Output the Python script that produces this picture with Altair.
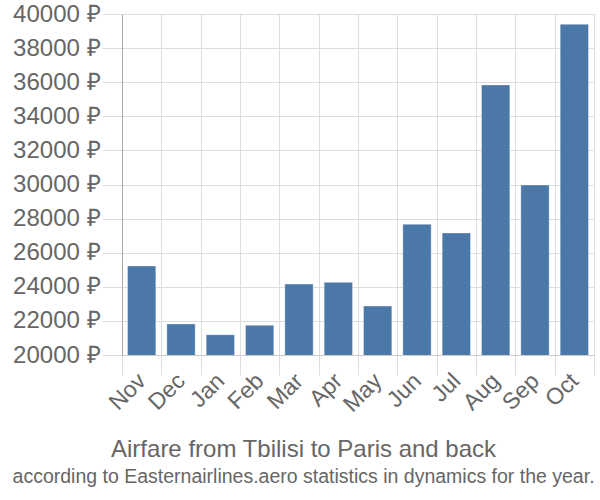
import altair as alt
import pandas as pd

months = ["Nov", "Dec", "Jan", "Feb", "Mar", "Apr", "May", "Jun", "Jul", "Aug", "Sep", "Oct"]
prices = [25220, 21820, 21190, 21740, 24160, 24260, 22870, 27670, 27160, 35840, 29970, 39400]

df = pd.DataFrame({"month": months, "price": prices})

FONT = "Liberation Sans"

chart = alt.Chart(df).mark_bar(
    color="#4c78a8",
    width=alt.RelativeBandSize(0.72),
    stroke="#ffffff",
    strokeOpacity=0.35,
    strokeWidth=1,
    clip=True,
).encode(
    x=alt.X("month:N", sort=months, title=None,
            scale=alt.Scale(paddingInner=0, paddingOuter=0),
            axis=alt.Axis(labelAngle=-45, labelAlign="right", labelBaseline="middle",
                          tickBand="extent", tickSize=20, tickColor="#dddddd",
                          grid=True, gridColor="#dddddd", domainColor="#cccccc",
                          labelFont=FONT, labelFontSize=23, labelColor="#666666",
                          labelPadding=2)),
    y=alt.Y("price:Q", title=None,
            scale=alt.Scale(domain=[20000, 40000], nice=False, zero=False),
            axis=alt.Axis(values=list(range(20000, 40001, 2000)),
                          labelExpr="datum.value + ' ₽'",
                          tickSize=20, tickColor="#dddddd",
                          grid=True, gridColor="#dddddd", domainColor="#aaaaaa",
                          labelFont=FONT, labelFontSize=24, labelColor="#666666",
                          labelPadding=2)),
).properties(
    width=472,
    height=341,
    padding={"left": 122, "top": 14, "right": 6, "bottom": 145},
    autosize=alt.AutoSizeParams(type="none"),
    title=alt.TitleParams(
        text="Airfare from Tbilisi to Paris and back",
        subtitle="according to Easternairlines.aero statistics in dynamics for the year.",
        orient="bottom", anchor="middle", frame="bounds",
        font=FONT, fontSize=24, fontWeight="normal", color="#666666",
        subtitleFont=FONT, subtitleFontSize=19.5, subtitleColor="#666666",
        offset=22, subtitlePadding=6,
    ),
).configure_view(stroke="#dddddd")

chart.save("out.html", embed_options={"renderer": "svg", "actions": False})
